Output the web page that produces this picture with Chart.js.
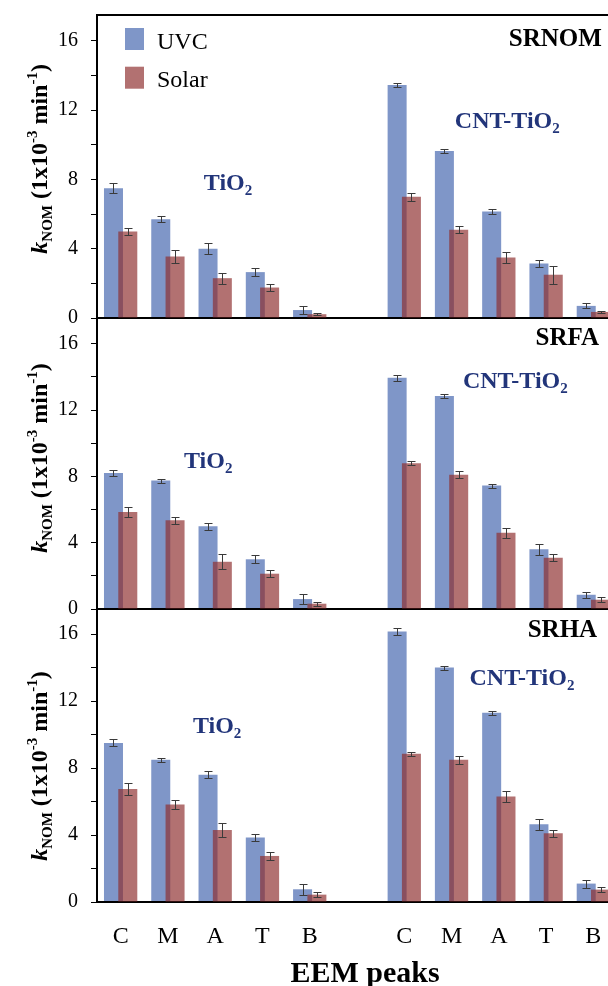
<!DOCTYPE html>
<html>
<head>
<meta charset="utf-8">
<script src="https://cdn.jsdelivr.net/npm/chart.js@4.4.1/dist/chart.umd.min.js"></script>
<style>
  html, body { margin: 0; padding: 0; background: #fff; overflow: hidden; }
  #wrap { position: relative; width: 608px; height: 986px; overflow: hidden; }
  #wrap canvas { position: absolute; left: 0; }
</style>
</head>
<body>
<div id="wrap">
  <canvas id="srnom" width="620" height="332" style="top:0px"></canvas>
  <canvas id="srfa" width="620" height="313" style="top:310px"></canvas>
  <canvas id="srha" width="620" height="386" style="top:600px"></canvas>
</div>
<script>
// EEM peaks for TiO2 (left group) and CNT-TiO2 (right group), blank slot between
const peaks = ['C', 'M', 'A', 'T', 'B', '', 'C', 'M', 'A', 'T', 'B'];
const yTicks = [0, 2, 4, 6, 8, 10, 12, 14, 16];

// k_NOM (1x10^-3 min^-1)
const srnomUvc      = [7.5, 5.7, 4.0, 2.65, 0.46, null, 13.45, 9.65, 6.15, 3.15, 0.7];
const srnomSolar    = [5.0, 3.55, 2.3, 1.76, 0.22, null, 7.0, 5.1, 3.5, 2.5, 0.35];
const srnomUvcErr   = [0.27, 0.17, 0.31, 0.22, 0.23, null, 0.13, 0.13, 0.13, 0.22, 0.14];
const srnomSolarErr = [0.2, 0.38, 0.31, 0.22, 0.06, null, 0.22, 0.2, 0.34, 0.52, 0.07];

const srfaUvc      = [8.2, 7.75, 5.0, 3.0, 0.6, null, 13.95, 12.85, 7.45, 3.6, 0.86];
const srfaSolar    = [5.85, 5.35, 2.85, 2.13, 0.32, null, 8.8, 8.1, 4.6, 3.1, 0.56];
const srfaUvcErr   = [0.2, 0.12, 0.21, 0.24, 0.29, null, 0.2, 0.12, 0.12, 0.32, 0.19];
const srfaSolarErr = [0.32, 0.22, 0.45, 0.2, 0.12, null, 0.11, 0.2, 0.3, 0.23, 0.14];

const srhaUvc      = [9.5, 8.5, 7.6, 3.85, 0.76, null, 16.15, 14.0, 11.3, 4.65, 1.1];
const srhaSolar    = [6.75, 5.83, 4.3, 2.75, 0.44, null, 8.85, 8.5, 6.3, 4.1, 0.74];
const srhaUvcErr   = [0.21, 0.13, 0.22, 0.23, 0.32, null, 0.2, 0.12, 0.12, 0.32, 0.24];
const srhaSolarErr = [0.34, 0.25, 0.41, 0.23, 0.14, null, 0.13, 0.24, 0.33, 0.23, 0.14];

const SERIF = '"Liberation Serif", "Times New Roman", serif';
const UVC_COLOR = '#7f96c8';
const SOLAR_COLOR = 'rgba(142, 45, 45, 0.68)';
const NAVY = '#22357a';

Chart.defaults.font.family = SERIF;
Chart.defaults.color = '#000';

// draw a run of text pieces with different fonts / vertical shifts
function drawRich(ctx, parts, x, y, align) {
  let w = 0;
  parts.forEach(p => { ctx.font = p.font; w += ctx.measureText(p.t).width; });
  let cx = align === 'center' ? x - w / 2 : align === 'right' ? x - w : x;
  ctx.textAlign = 'left';
  ctx.textBaseline = 'alphabetic';
  parts.forEach(p => {
    ctx.font = p.font;
    ctx.fillText(p.t, cx, y + (p.dy || 0));
    cx += ctx.measureText(p.t).width;
  });
}

function subscripted(main, sub, size) {
  return [
    { t: main, font: `bold ${size}px ${SERIF}` },
    { t: sub, font: `bold ${Math.round(size * 0.62)}px ${SERIF}`, dy: 5 }
  ];
}

// keep the plot areas flush: no extra room for half-labels at the ends
function noPadding(scale) {
  scale.paddingTop = 0;
  scale.paddingBottom = 0;
  scale.paddingLeft = 0;
  scale.paddingRight = 0;
}

// Solar bars sit on top of the UVC bars, so UVC is painted underneath
const underlay = {
  id: 'underlay',
  beforeDatasetDraw(chart, args) {
    if (args.index === 0) chart.ctx.globalCompositeOperation = 'destination-over';
  },
  afterDatasetDraw(chart, args) {
    if (args.index === 0) chart.ctx.globalCompositeOperation = 'source-over';
  }
};

const errorBars = {
  id: 'errorBars',
  afterDatasetsDraw(chart) {
    const ctx = chart.ctx, y = chart.scales.y;
    ctx.save();
    ctx.strokeStyle = '#3a3a3a';
    ctx.lineWidth = 1;
    chart.data.datasets.forEach((ds, di) => {
      chart.getDatasetMeta(di).data.forEach((bar, i) => {
        const v = ds.data[i], e = ds.errors[i];
        if (v == null || !e) return;
        const x = Math.round(bar.x) + 0.5;
        const top = Math.round(y.getPixelForValue(v + e)) + 0.5;
        const bot = Math.round(y.getPixelForValue(v - e)) + 0.5;
        ctx.beginPath();
        ctx.moveTo(x, top); ctx.lineTo(x, bot);
        ctx.moveTo(x - 4, top); ctx.lineTo(x + 4, top);
        ctx.moveTo(x - 4, bot); ctx.lineTo(x + 4, bot);
        ctx.stroke();
      });
    });
    ctx.restore();
  }
};

const panelText = {
  id: 'panelText',
  afterDraw(chart, args, opts) {
    const ctx = chart.ctx, xs = chart.scales.x, ys = chart.scales.y, area = chart.chartArea;
    ctx.save();

    // y axis title
    ctx.save();
    ctx.translate(47, ys.getPixelForValue(opts.titleY));
    ctx.rotate(-Math.PI / 2);
    ctx.fillStyle = '#000';
    drawRich(ctx, [
      { t: 'k', font: `italic bold 24px ${SERIF}` },
      { t: 'NOM', font: `bold 15px ${SERIF}`, dy: 5 },
      { t: ' (1x10', font: `bold 24px ${SERIF}` },
      { t: '-3', font: `bold 15px ${SERIF}`, dy: -10 },
      { t: ' min', font: `bold 24px ${SERIF}` },
      { t: '-1', font: `bold 15px ${SERIF}`, dy: -10 },
      { t: ')', font: `bold 24px ${SERIF}` }
    ], 0, 0, 'center');
    ctx.restore();

    // catalyst labels
    ctx.fillStyle = NAVY;
    drawRich(ctx, subscripted('TiO', '2', 24),
      xs.getPixelForValue(opts.tio2[0]), ys.getPixelForValue(opts.tio2[1]), 'left');
    drawRich(ctx, subscripted('CNT-TiO', '2', 24),
      xs.getPixelForValue(opts.cnt[0]), ys.getPixelForValue(opts.cnt[1]), 'left');

    // NOM type
    ctx.fillStyle = '#000';
    drawRich(ctx, [{ t: opts.name, font: `bold 25px ${SERIF}` }],
      xs.getPixelForValue(opts.nameAt[0]), ys.getPixelForValue(opts.nameAt[1]), 'right');

    if (opts.legend) {
      chart.data.datasets.forEach((ds, i) => {
        const top = area.top + 13 + i * 38.7;
        ctx.fillStyle = ds.backgroundColor;
        ctx.fillRect(area.left + 28, top, 19, 22);
        ctx.fillStyle = '#000';
        ctx.font = `24px ${SERIF}`;
        ctx.textAlign = 'left';
        ctx.textBaseline = 'alphabetic';
        ctx.fillText(ds.label, area.left + 60, top + 20.5);
      });
    }

    if (opts.xTitle) {
      ctx.fillStyle = '#000';
      drawRich(ctx, [{ t: opts.xTitle, font: `bold 30px ${SERIF}` }],
        xs.getPixelForValue(5.17), area.bottom + 80, 'center');
    }
    ctx.restore();
  }
};

function makePanel(id, uvc, solar, uvcErr, solarErr, opts) {
  const scales = {
    x: {
      type: 'category',
      offset: true,
      z: 1,
      grid: { display: false },
      border: { display: true, color: '#000', width: 2 },
      ticks: {
        display: opts.showPeaks,
        autoSkip: false,
        maxRotation: 0,
        padding: 12,
        font: { size: 24, family: SERIF },
        color: '#000'
      },
      afterFit(scale) { scale.height = opts.axisHeight; noPadding(scale); }
    },
    y: {
      min: 0,
      max: 17.5,
      z: 1,
      grid: { display: true, drawOnChartArea: false, drawTicks: true, tickLength: 6, color: '#000', lineWidth: 1 },
      border: { display: true, color: '#000', width: 2 },
      afterBuildTicks(scale) { scale.ticks = yTicks.map(v => ({ value: v })); },
      ticks: {
        autoSkip: false,
        padding: 13,
        font: { size: 20, family: SERIF },
        color: '#000',
        callback: v => (v % 4 === 0 ? v : '')
      },
      afterFit(scale) { scale.width = 97; noPadding(scale); }
    }
  };
  if (opts.frameTop) {
    scales.xTop = {
      type: 'category',
      position: 'top',
      z: 1,
      grid: { display: false },
      ticks: { display: false },
      border: { display: true, color: '#000', width: 2 },
      afterFit(scale) { scale.height = 0; noPadding(scale); }
    };
  }
  return new Chart(document.getElementById(id), {
    type: 'bar',
    data: {
      labels: peaks,
      datasets: [
        { label: 'UVC', data: uvc, errors: uvcErr, backgroundColor: UVC_COLOR, borderWidth: 0 },
        { label: 'Solar', data: solar, errors: solarErr, backgroundColor: SOLAR_COLOR, borderWidth: 0 }
      ]
    },
    options: {
      responsive: false,
      animation: false,
      devicePixelRatio: 1,
      events: [],
      categoryPercentage: 0.605,
      barPercentage: 1.33,
      layout: { padding: { top: opts.padTop, right: 3, bottom: 0, left: 0 } },
      scales: scales,
      plugins: {
        legend: { display: false },
        tooltip: { enabled: false },
        panelText: opts.text
      }
    },
    plugins: [underlay, errorBars, panelText]
  });
}

// the lower panels' canvases overlap the ones above (transparent), so the
// "0" tick label of each upper panel is not cut off
makePanel('srnom', srnomUvc, srnomSolar, srnomUvcErr, srnomSolarErr, {
  padTop: 15, axisHeight: 14, showPeaks: false, frameTop: true,
  text: { titleY: 9.19, tio2: [1.76, 7.39], cnt: [7.07, 10.98], name: 'SRNOM', nameAt: [10.18, 15.71], legend: true }
});

makePanel('srfa', srfaUvc, srfaSolar, srfaUvcErr, srfaSolarErr, {
  padTop: 9, axisHeight: 14, showPeaks: false, frameTop: false,
  text: { titleY: 9.11, tio2: [1.34, 8.51], cnt: [7.24, 13.34], name: 'SRFA', nameAt: [10.12, 15.93] }
});

makePanel('srha', srhaUvc, srhaSolar, srhaUvcErr, srhaSolarErr, {
  padTop: 9, axisHeight: 84, showPeaks: true, frameTop: false,
  text: { titleY: 8.12, tio2: [1.53, 10.1], cnt: [7.38, 12.96], name: 'SRHA', nameAt: [10.08, 15.83], xTitle: 'EEM peaks' }
});
</script>
</body>
</html>
